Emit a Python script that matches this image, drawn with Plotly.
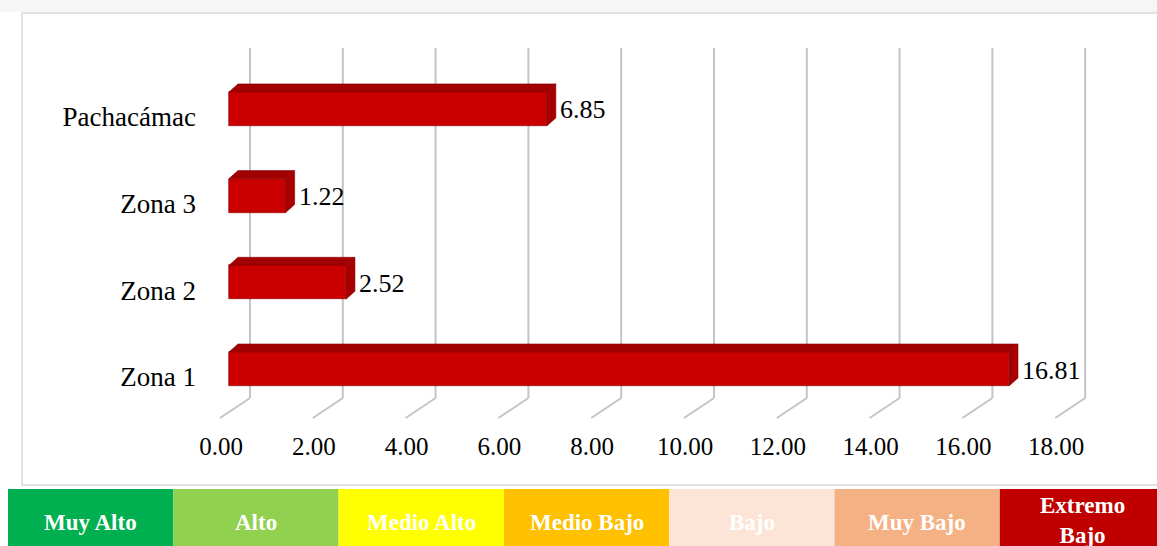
import plotly.graph_objects as go

# ---------------- data ----------------
categories = ["Zona 1", "Zona 2", "Zona 3", "Pachacámac"]
values = [16.81, 2.52, 1.22, 6.85]
x_ticks = [0, 2, 4, 6, 8, 10, 12, 14, 16, 18]
band_labels = ["Muy Alto", "Alto", "Medio Alto", "Medio Bajo", "Bajo", "Muy Bajo", "Extremo<br>Bajo"]
band_colors = ["#00B050", "#92D050", "#FFFF00", "#FFC000", "#FCE4D6", "#F4B183", "#C00000"]

# ---------------- geometry ----------------
W, H = 1157, 546
L, R, T, B = 200, 57, 40, 121
SX, X0PX = 46.4, 229.0      # px per unit, px of value 0 (front face)
SY, Y0PX = 86.7, 369.0      # px per category, px of first category centre
xr = [(L - X0PX) / SX, (W - R - X0PX) / SX]
yr = [(Y0PX - (H - B)) / SY, (Y0PX - T) / SY]
BW = 34 / SY                # bar thickness (category units)
DX, DY = 9 / SX, 8 / SY     # 3D depth
GX = 21 / SX                # back wall offset
FX = -9 / SX                # floor front offset
G_TOP, G_BOT, F_BOT = (Y0PX - 48) / SY, (Y0PX - 398) / SY, (Y0PX - 418) / SY

FONT = "Times New Roman, Liberation Serif, serif"

def paper_x(px):
    return (px - L) / (W - L - R)

def paper_y(py):
    return (H - B - py) / (H - T - B)

ypos = list(range(len(categories)))

fig = go.Figure()

# front faces
fig.add_trace(go.Bar(
    x=values, y=ypos, orientation="h", width=BW,
    marker=dict(color="#CA0000", line=dict(color="#8A0000", width=0.6)),
    hoverinfo="skip", showlegend=False,
))

# top and side faces
for v, y in zip(values, ypos):
    top = y + BW / 2
    bot = y - BW / 2
    fig.add_trace(go.Scatter(
        x=[0, v, v + DX, DX, 0], y=[top, top, top + DY, top + DY, top],
        fill="toself", fillcolor="#A00000", mode="lines",
        line=dict(color="#8A0000", width=0.6), hoverinfo="skip", showlegend=False))
    fig.add_trace(go.Scatter(
        x=[v, v + DX, v + DX, v, v], y=[bot, bot + DY, top + DY, top, bot],
        fill="toself", fillcolor="#A80000", mode="lines",
        line=dict(color="#8A0000", width=0.6), hoverinfo="skip", showlegend=False))

# value labels
for v, y in zip(values, ypos):
    fig.add_annotation(x=v + DX, y=y, text=f"{v:.2f}", showarrow=False,
                       xanchor="left", xshift=2, yshift=-1,
                       font=dict(family=FONT, size=26, color="#000000"))

shapes = []
# faint watermark strip at top
shapes.append(dict(type="rect", xref="paper", yref="paper", layer="below",
                   x0=paper_x(0), x1=paper_x(W), y0=paper_y(12), y1=paper_y(0),
                   line=dict(width=0), fillcolor="#F6F6F6"))
# back wall gridlines + floor lines
for t in x_ticks:
    shapes.append(dict(type="line", xref="x", yref="y", layer="below",
                       x0=t + GX, x1=t + GX, y0=G_BOT, y1=G_TOP,
                       line=dict(color="#C4C4C4", width=2)))
    shapes.append(dict(type="line", xref="x", yref="y", layer="below",
                       x0=t + GX, x1=t + FX, y0=G_BOT, y1=F_BOT,
                       line=dict(color="#C4C4C4", width=2)))

# chart frame (right edge runs off the picture)
shapes.append(dict(type="rect", xref="paper", yref="paper", layer="below",
                   x0=paper_x(22), x1=paper_x(W + 10), y0=paper_y(485), y1=paper_y(13),
                   line=dict(color="#D9D9D9", width=1.5), fillcolor="#FFFFFF"))

# bottom band
BX0, BWID = 8, 165.3
for i, (lab, col) in enumerate(zip(band_labels, band_colors)):
    x0 = BX0 + BWID * i
    x1 = x0 + BWID
    shapes.append(dict(type="rect", xref="paper", yref="paper",
                       x0=paper_x(x0), x1=paper_x(x1), y0=paper_y(H + 2), y1=paper_y(489),
                       line=dict(width=0), fillcolor=col))
    ycen = 522 if "<br>" not in lab else 520
    fig.add_annotation(xref="paper", yref="paper", x=paper_x((x0 + x1) / 2), y=paper_y(ycen),
                       text=f"<b>{lab}</b>", showarrow=False, xanchor="center", yanchor="middle",
                       font=dict(family=FONT, size=23, color="#FFFFFF"))

fig.update_layout(
    width=W, height=H,
    margin=dict(l=L, r=R, t=T, b=B, pad=0),
    paper_bgcolor="#FFFFFF", plot_bgcolor="rgba(0,0,0,0)",
    shapes=shapes, bargap=0,
    font=dict(family=FONT, size=25, color="#000000"),
    xaxis=dict(range=xr, tickvals=x_ticks, ticktext=[f"{t:.2f}" for t in x_ticks],
               showgrid=False, zeroline=False, showline=False, ticks="",
               tickfont=dict(size=25),
               ticklabelshift=-8, ticklabelstandoff=4, fixedrange=True),
    yaxis=dict(range=yr, tickvals=ypos, ticktext=categories,
               showgrid=False, zeroline=False, showline=False, ticks="",
               tickfont=dict(size=27),
               ticklabelshift=8, ticklabelstandoff=3, fixedrange=True),
)

fig.write_html("out.html", config={"displayModeBar": False},
               post_script="document.body.style.margin='0px';")
